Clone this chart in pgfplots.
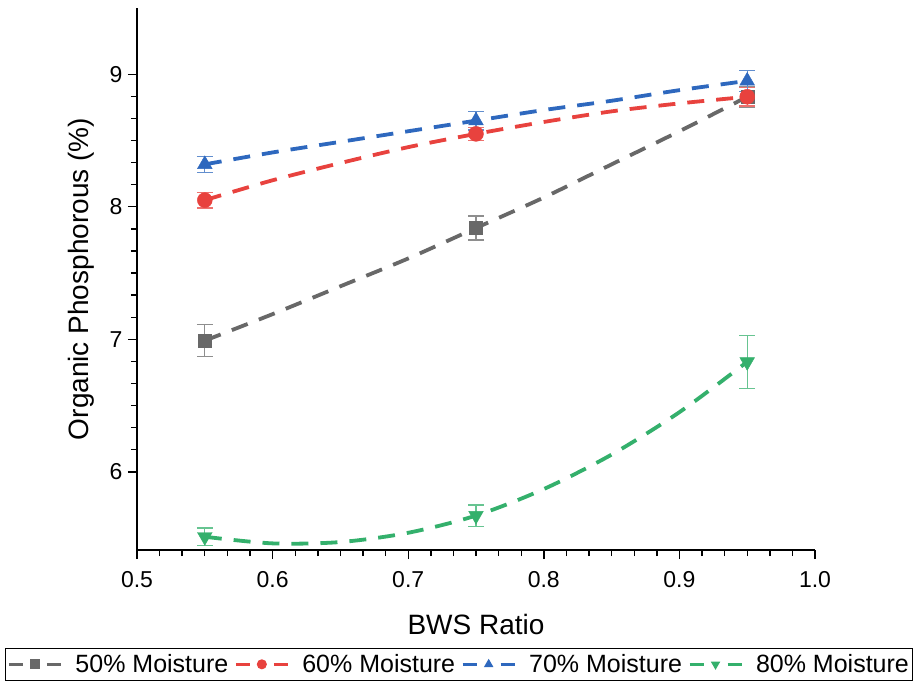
\documentclass[border=0pt]{standalone}
\usepackage{fontspec}
\setmainfont{Liberation Sans}
\usepackage{pgfplots}
\pgfplotsset{compat=1.18}

\definecolor{cgray}{RGB}{104,104,104}
\definecolor{cred}{RGB}{232,66,62}
\definecolor{cblue}{RGB}{46,104,190}
\definecolor{cgreen}{RGB}{52,176,108}

\begin{document}
\begin{tikzpicture}
\begin{axis}[
  scale only axis, width=678pt, height=542pt,
  xmin=0.5, xmax=1.0, ymin=5.41, ymax=9.5,
  axis lines*=left,
  axis line style={line width=1.6pt,-},
  tick align=outside,
  major tick length=9pt, minor tick length=6pt,
  every tick/.style={black,line width=1.4pt},
  xtick={0.5,0.6,0.7,0.8,0.9,1.0}, ytick={6,7,8,9},
  minor x tick num=5, minor y tick num=5,
  x tick label style={yshift=-9pt,/pgf/number format/.cd,fixed,fixed zerofill,precision=1,/tikz/.cd},
  y tick label style={xshift=-2pt},
  /pgf/number format/assume math mode=true,
  tick label style={font=\fontsize{23}{27}\selectfont},
  label style={font=\fontsize{28}{32}\selectfont},
  xlabel={BWS Ratio},
  ylabel={Organic Phosphorous (\%)},
  xlabel style={yshift=-20pt},
  ylabel style={yshift=8pt},
  clip=false,
  legend columns=4,
  legend cell align=left,
  legend style={at={(0,0)}, anchor=north west, xshift=-132pt, yshift=-98pt,
    draw=black, line width=1pt, font=\fontsize{25}{28}\selectfont,
    inner xsep=2pt, inner ysep=4pt,
    /tikz/every odd column/.append style={column sep=11pt},
    /tikz/every even column/.append style={column sep=4pt}},
  legend image code/.code={
    \draw[#1,solid,line width=3pt] (0pt,0pt) -- (14pt,0pt);
    \draw[#1,solid,line width=3pt] (38pt,0pt) -- (52pt,0pt);
    \draw[#1,mark size=4.5pt] plot coordinates {(26pt,0pt)};
  },
  curve/.style={line width=3.8pt, dash pattern=on 17pt off 12pt, smooth, forget plot, mark=none},
  pts/.style={only marks, error bars/.cd, y dir=both, y explicit,
    error bar style={#1!75, line width=1.3pt},
    error mark options={rotate=90, #1!75, mark size=8pt, line width=1.3pt}},
]

% 50% Moisture
\addplot[cgray, curve] coordinates {
(0.55,6.99) (0.60,7.19) (0.65,7.40) (0.70,7.61) (0.75,7.84)
(0.80,8.07) (0.85,8.32) (0.90,8.57) (0.95,8.83)};
\addplot[cgray, mark=square*, mark size=6.5pt, pts=cgray] coordinates {
(0.55,6.99) +- (0,0.12)
(0.75,7.84) +- (0,0.09)
(0.95,8.83) +- (0,0.08)};
\addlegendentry{50\% Moisture}

% 60% Moisture
\addplot[cred, curve] coordinates {
(0.55,8.05) (0.60,8.20) (0.65,8.33) (0.70,8.45) (0.75,8.55)
(0.80,8.64) (0.85,8.72) (0.90,8.78) (0.95,8.83)};
\addplot[cred, mark=*, mark size=7.5pt, pts=cred] coordinates {
(0.55,8.05) +- (0,0.06)
(0.75,8.55) +- (0,0.05)
(0.95,8.83) +- (0,0.07)};
\addlegendentry{60\% Moisture}

% 70% Moisture
\addplot[cblue, curve] coordinates {
(0.55,8.32) (0.60,8.41) (0.65,8.49) (0.70,8.57) (0.75,8.65)
(0.80,8.73) (0.85,8.80) (0.90,8.88) (0.95,8.95)};
\addplot[cblue, mark=triangle*, mark size=8.5pt, pts=cblue] coordinates {
(0.55,8.32) +- (0,0.06)
(0.75,8.65) +- (0,0.07)
(0.95,8.95) +- (0,0.08)};
\addlegendentry{70\% Moisture}

% 80% Moisture
\addplot[cgreen, curve] coordinates {
(0.55,5.51) (0.60,5.46) (0.65,5.47) (0.70,5.54) (0.75,5.67)
(0.80,5.87) (0.85,6.13) (0.90,6.45) (0.95,6.83)};
\addplot[cgreen, mark=triangle*, mark options={rotate=180}, mark size=8.5pt, pts=cgreen] coordinates {
(0.55,5.51) +- (0,0.065)
(0.75,5.67) +- (0,0.08)
(0.95,6.83) +- (0,0.20)};
\addlegendentry{80\% Moisture}

\end{axis}
\path ([xshift=-137pt,yshift=-135pt]current axis.south west)
      ([xshift=101pt,yshift=8pt]current axis.north east);
\end{tikzpicture}
\end{document}
